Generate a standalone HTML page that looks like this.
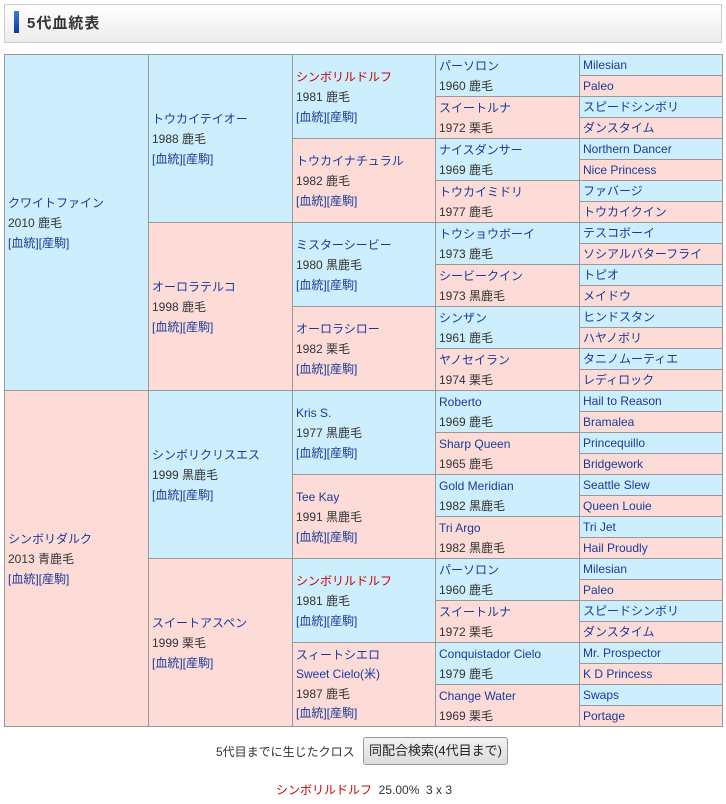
<!DOCTYPE html>
<html><head><meta charset="utf-8">
<style>
body{margin:0;width:726px;height:804px;background:#fff;font-family:"Liberation Sans","Noto Sans CJK JP",sans-serif;font-size:12px;color:#333;position:relative;overflow:hidden}
.hd{position:absolute;left:4px;top:4px;width:716px;height:37px;border:1px solid #ccc;background:linear-gradient(#fff,#ececec)}
.bar{position:absolute;left:9px;top:6px;width:5px;height:22px;background:linear-gradient(#3a7ae0,#0a3aa0)}
.tt{position:absolute;left:22px;top:7px;font-size:15px;font-weight:bold;color:#333;letter-spacing:1px}
.t{position:absolute;left:4px;top:54px;width:718px;height:672px}
.ov{position:absolute;left:0;top:0;width:719px;height:673px;border-right:1px solid #999;border-bottom:1px solid #999;box-sizing:border-box;pointer-events:none}
.c{position:absolute;box-sizing:border-box;border-left:1px solid #999;border-top:1px solid #999;display:flex;flex-direction:column;justify-content:center;padding-left:3px;line-height:20px;white-space:nowrap;overflow:hidden}
.b{background:#cdeefc}.p{background:#fddcd8}
.n{color:#1a3a9a}.r{color:#c00}
.c5{line-height:19px}
</style></head><body>
<div class="hd"><div class="bar"></div><div class="tt">5代血統表</div></div>
<div class="t">
<div class="c b" style="left:0;top:0;width:144px;height:336px"><span class="n">クワイトファイン</span><span>2010 鹿毛</span><span class="n">[血統][産駒]</span></div>
<div class="c p" style="left:0;top:336px;width:144px;height:336px"><span class="n">シンボリダルク</span><span>2013 青鹿毛</span><span class="n">[血統][産駒]</span></div>
<div class="c b" style="left:144px;top:0;width:144px;height:168px"><span class="n">トウカイテイオー</span><span>1988 鹿毛</span><span class="n">[血統][産駒]</span></div>
<div class="c p" style="left:144px;top:168px;width:144px;height:168px"><span class="n">オーロラテルコ</span><span>1998 鹿毛</span><span class="n">[血統][産駒]</span></div>
<div class="c b" style="left:144px;top:336px;width:144px;height:168px"><span class="n">シンボリクリスエス</span><span>1999 黒鹿毛</span><span class="n">[血統][産駒]</span></div>
<div class="c p" style="left:144px;top:504px;width:144px;height:168px"><span class="n">スイートアスペン</span><span>1999 栗毛</span><span class="n">[血統][産駒]</span></div>
<div class="c b" style="left:288px;top:0;width:143px;height:84px"><span class="r">シンボリルドルフ</span><span>1981 鹿毛</span><span class="n">[血統][産駒]</span></div>
<div class="c p" style="left:288px;top:84px;width:143px;height:84px"><span class="n">トウカイナチュラル</span><span>1982 鹿毛</span><span class="n">[血統][産駒]</span></div>
<div class="c b" style="left:288px;top:168px;width:143px;height:84px"><span class="n">ミスターシービー</span><span>1980 黒鹿毛</span><span class="n">[血統][産駒]</span></div>
<div class="c p" style="left:288px;top:252px;width:143px;height:84px"><span class="n">オーロラシロー</span><span>1982 栗毛</span><span class="n">[血統][産駒]</span></div>
<div class="c b" style="left:288px;top:336px;width:143px;height:84px"><span class="n">Kris S.</span><span>1977 黒鹿毛</span><span class="n">[血統][産駒]</span></div>
<div class="c p" style="left:288px;top:420px;width:143px;height:84px"><span class="n">Tee Kay</span><span>1991 黒鹿毛</span><span class="n">[血統][産駒]</span></div>
<div class="c b" style="left:288px;top:504px;width:143px;height:84px"><span class="r">シンボリルドルフ</span><span>1981 鹿毛</span><span class="n">[血統][産駒]</span></div>
<div class="c p" style="left:288px;top:588px;width:143px;height:84px;line-height:19.5px"><span class="n">スィートシエロ</span><span class="n">Sweet Cielo(米)</span><span>1987 鹿毛</span><span class="n">[血統][産駒]</span></div>
<div class="c b" style="left:431px;top:0;width:144px;height:42px"><span class="n">パーソロン</span><span>1960 鹿毛</span></div>
<div class="c p" style="left:431px;top:42px;width:144px;height:42px"><span class="n">スイートルナ</span><span>1972 栗毛</span></div>
<div class="c b" style="left:431px;top:84px;width:144px;height:42px"><span class="n">ナイスダンサー</span><span>1969 鹿毛</span></div>
<div class="c p" style="left:431px;top:126px;width:144px;height:42px"><span class="n">トウカイミドリ</span><span>1977 鹿毛</span></div>
<div class="c b" style="left:431px;top:168px;width:144px;height:42px"><span class="n">トウショウボーイ</span><span>1973 鹿毛</span></div>
<div class="c p" style="left:431px;top:210px;width:144px;height:42px"><span class="n">シービークイン</span><span>1973 黒鹿毛</span></div>
<div class="c b" style="left:431px;top:252px;width:144px;height:42px"><span class="n">シンザン</span><span>1961 鹿毛</span></div>
<div class="c p" style="left:431px;top:294px;width:144px;height:42px"><span class="n">ヤノセイラン</span><span>1974 栗毛</span></div>
<div class="c b" style="left:431px;top:336px;width:144px;height:42px"><span class="n">Roberto</span><span>1969 鹿毛</span></div>
<div class="c p" style="left:431px;top:378px;width:144px;height:42px"><span class="n">Sharp Queen</span><span>1965 鹿毛</span></div>
<div class="c b" style="left:431px;top:420px;width:144px;height:42px"><span class="n">Gold Meridian</span><span>1982 黒鹿毛</span></div>
<div class="c p" style="left:431px;top:462px;width:144px;height:42px"><span class="n">Tri Argo</span><span>1982 黒鹿毛</span></div>
<div class="c b" style="left:431px;top:504px;width:144px;height:42px"><span class="n">パーソロン</span><span>1960 鹿毛</span></div>
<div class="c p" style="left:431px;top:546px;width:144px;height:42px"><span class="n">スイートルナ</span><span>1972 栗毛</span></div>
<div class="c b" style="left:431px;top:588px;width:144px;height:42px"><span class="n">Conquistador Cielo</span><span>1979 鹿毛</span></div>
<div class="c p" style="left:431px;top:630px;width:144px;height:42px"><span class="n">Change Water</span><span>1969 栗毛</span></div>
<div class="c c5 b" style="left:575px;top:0;width:143px;height:21px"><span class="n">Milesian</span></div>
<div class="c c5 p" style="left:575px;top:21px;width:143px;height:21px"><span class="n">Paleo</span></div>
<div class="c c5 b" style="left:575px;top:42px;width:143px;height:21px"><span class="n">スピードシンボリ</span></div>
<div class="c c5 p" style="left:575px;top:63px;width:143px;height:21px"><span class="n">ダンスタイム</span></div>
<div class="c c5 b" style="left:575px;top:84px;width:143px;height:21px"><span class="n">Northern Dancer</span></div>
<div class="c c5 p" style="left:575px;top:105px;width:143px;height:21px"><span class="n">Nice Princess</span></div>
<div class="c c5 b" style="left:575px;top:126px;width:143px;height:21px"><span class="n">ファバージ</span></div>
<div class="c c5 p" style="left:575px;top:147px;width:143px;height:21px"><span class="n">トウカイクイン</span></div>
<div class="c c5 b" style="left:575px;top:168px;width:143px;height:21px"><span class="n">テスコボーイ</span></div>
<div class="c c5 p" style="left:575px;top:189px;width:143px;height:21px"><span class="n">ソシアルバターフライ</span></div>
<div class="c c5 b" style="left:575px;top:210px;width:143px;height:21px"><span class="n">トピオ</span></div>
<div class="c c5 p" style="left:575px;top:231px;width:143px;height:21px"><span class="n">メイドウ</span></div>
<div class="c c5 b" style="left:575px;top:252px;width:143px;height:21px"><span class="n">ヒンドスタン</span></div>
<div class="c c5 p" style="left:575px;top:273px;width:143px;height:21px"><span class="n">ハヤノボリ</span></div>
<div class="c c5 b" style="left:575px;top:294px;width:143px;height:21px"><span class="n">タニノムーティエ</span></div>
<div class="c c5 p" style="left:575px;top:315px;width:143px;height:21px"><span class="n">レディロック</span></div>
<div class="c c5 b" style="left:575px;top:336px;width:143px;height:21px"><span class="n">Hail to Reason</span></div>
<div class="c c5 p" style="left:575px;top:357px;width:143px;height:21px"><span class="n">Bramalea</span></div>
<div class="c c5 b" style="left:575px;top:378px;width:143px;height:21px"><span class="n">Princequillo</span></div>
<div class="c c5 p" style="left:575px;top:399px;width:143px;height:21px"><span class="n">Bridgework</span></div>
<div class="c c5 b" style="left:575px;top:420px;width:143px;height:21px"><span class="n">Seattle Slew</span></div>
<div class="c c5 p" style="left:575px;top:441px;width:143px;height:21px"><span class="n">Queen Louie</span></div>
<div class="c c5 b" style="left:575px;top:462px;width:143px;height:21px"><span class="n">Tri Jet</span></div>
<div class="c c5 p" style="left:575px;top:483px;width:143px;height:21px"><span class="n">Hail Proudly</span></div>
<div class="c c5 b" style="left:575px;top:504px;width:143px;height:21px"><span class="n">Milesian</span></div>
<div class="c c5 p" style="left:575px;top:525px;width:143px;height:21px"><span class="n">Paleo</span></div>
<div class="c c5 b" style="left:575px;top:546px;width:143px;height:21px"><span class="n">スピードシンボリ</span></div>
<div class="c c5 p" style="left:575px;top:567px;width:143px;height:21px"><span class="n">ダンスタイム</span></div>
<div class="c c5 b" style="left:575px;top:588px;width:143px;height:21px"><span class="n">Mr. Prospector</span></div>
<div class="c c5 p" style="left:575px;top:609px;width:143px;height:21px"><span class="n">K D Princess</span></div>
<div class="c c5 b" style="left:575px;top:630px;width:143px;height:21px"><span class="n">Swaps</span></div>
<div class="c c5 p" style="left:575px;top:651px;width:143px;height:21px"><span class="n">Portage</span></div>
<div class="ov"></div>
</div>
<div style="position:absolute;left:216px;top:744px;line-height:16px">5代目までに生じたクロス</div>
<div style="position:absolute;left:363px;top:737px;width:145px;height:28px;border:1px solid #999;border-radius:3px;background:linear-gradient(#f2f2f2,#dcdcdc);box-sizing:border-box;text-align:center;line-height:26px;font-size:13px;color:#222">同配合検索(4代目まで)</div>
<div style="position:absolute;left:276px;top:782px;line-height:16px"><span style="color:#c00">シンボリルドルフ</span>&nbsp;&nbsp;25.00%&nbsp;&nbsp;3 x 3</div>
</body></html>
